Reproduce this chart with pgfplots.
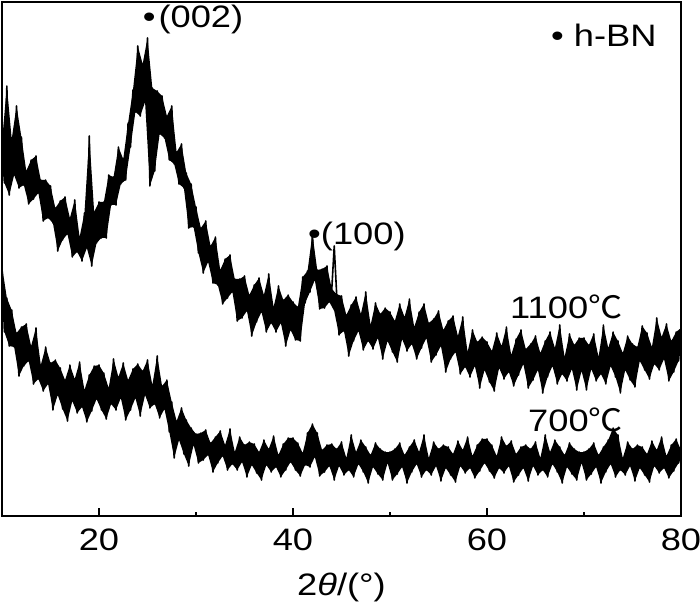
\documentclass[border=0pt]{standalone}
\usepackage{fontspec}
\setmainfont{Liberation Sans}[FakeStretch=1.17]
\newfontfamily\cjk{Noto Sans CJK SC}[FakeStretch=1.1]
\usepackage{pgfplots}
\pgfplotsset{compat=1.18}
\begin{document}
\begin{tikzpicture}[font=\fontsize{31}{37}\selectfont]
\path[use as bounding box] (-2pt,-88pt) rectangle (698pt,516pt);
\begin{axis}[
  at={(0pt,0pt)}, anchor=south west,
  scale only axis, width=679pt, height=514pt,
  xmin=10, xmax=80, ymin=0, ymax=514,
  xtick={20,40,60,80}, minor xtick={30,50,70},
  ytick=\empty,
  xtick pos=left, tick align=inside,
  major tick length=8pt, minor tick length=4pt,
  every tick/.style={black, line width=1.5pt},
  axis line style={line width=1.5pt},
  /pgf/number format/assume math mode=true,
  xticklabel style={font=\fontsize{31}{37}\selectfont, anchor=base, inner sep=0pt, yshift=-34pt},
  xlabel={2\textit{θ}/(°)},
  xlabel style={font=\fontsize{31}{37}\selectfont, at={(axis description cs:0.5,0)}, anchor=base, inner sep=0pt, yshift=-79pt},
]
% 1100 C: band between the noise maxima (forward) and minima (back)
\addplot[fill=black, draw=none] coordinates {
(10,374)(10.5,430)(11,377)(11.5,410)(12,379)(12.5,345)(13,356)(13.5,360)(14,336)(14.5,336)(15,330)(15.5,308)(16,315)(16.5,319)(17,298)(17.5,316)(18,279)(18.5,303)(19,380)(19.5,304)(20,314)(20.5,314)(21,341)(21.5,339)(22,369)(22.5,357)(23,393)(23.5,426)(24,470)(24.5,452)(25,478)(25.5,428)(26,425)(26.5,420)(27,400)(27.5,410)(28,364)(28.5,372)(29,343)(29.5,332)(30,309)(30.5,288)(31,295)(31.5,270)(32,279)(32.5,246)(33,257)(33.5,261)(34,237)(34.5,237)(35,240)(35.5,221)(36,231)(36.5,238)(37,221)(37.5,242)(38,209)(38.5,230)(39,216)(39.5,221)(40,214)(40.5,209)(41,239)(41.5,245)(42,282)(42.5,246)(43,247)(43.5,250)(44,227)(44.5,222)(45,220)(45.5,201)(46,211)(46.5,219)(47,202)(47.5,224)(48,191)(48.5,213)(49,202)(49.5,208)(50,204)(50.5,195)(51,212)(51.5,199)(52,217)(52.5,189)(53,204)(53.5,212)(54,193)(54.5,197)(55,205)(55.5,186)(56,195)(56.5,200)(57,180)(57.5,199)(58,164)(58.5,186)(59,174)(59.5,179)(60,174)(60.5,165)(61,183)(61.5,170)(62,189)(62.5,161)(63,177)(63.5,186)(64,167)(64.5,172)(65,180)(65.5,163)(66,175)(66.5,184)(67,168)(67.5,191)(68,159)(68.5,182)(69,171)(69.5,178)(70,178)(70.5,171)(71,182)(71.5,159)(72,191)(72.5,168)(73,184)(73.5,175)(74,163)(74.5,180)(75,172)(75.5,169)(76,190)(76.5,183)(77,169)(77.5,198)(78,179)(78.5,192)(79,175)(79.5,184)(80,188)
(79.75,155)(79.25,144)(78.75,135)(78.25,157)(77.75,146)(77.25,152)(76.75,137)(76.25,146)(75.75,155)(75.25,129)(74.75,136)(74.25,146)(73.75,123)(73.25,139)(72.75,150)(72.25,132)(71.75,142)(71.25,135)(70.75,147)(70.25,126)(69.75,145)(69.25,126)(68.75,147)(68.25,135)(67.75,142)(67.25,132)(66.75,150)(66.25,139)(65.75,123)(65.25,146)(64.75,136)(64.25,128)(63.75,152)(63.25,141)(62.75,130)(62.25,144)(61.75,137)(61.25,148)(60.75,125)(60.25,134)(59.75,146)(59.25,128)(58.75,150)(58.25,139)(57.75,149)(57.25,142)(56.75,164)(56.25,157)(55.75,144)(55.25,170)(54.75,161)(54.25,154)(53.75,178)(53.25,168)(52.75,157)(52.25,172)(51.75,165)(51.25,177)(50.75,154)(50.25,164)(49.75,175)(49.25,157)(48.75,178)(48.25,167)(47.75,175)(47.25,166)(46.75,185)(46.25,175)(45.75,160)(45.25,185)(44.75,181)(44.25,205)(43.75,214)(43.25,208)(42.75,207)(42.25,236)(41.75,224)(41.25,213)(40.75,175)(40.25,176)(39.75,186)(39.25,170)(38.75,193)(38.25,184)(37.75,193)(37.25,184)(36.75,204)(36.25,194)(35.75,180)(35.25,205)(34.75,198)(34.25,195)(33.75,224)(33.25,218)(32.75,212)(32.25,231)(31.75,233)(31.25,254)(30.75,243)(30.25,263)(29.75,289)(29.25,288)(28.75,328)(28.25,332)(27.75,352)(27.25,356)(26.75,378)(26.25,382)(25.75,345)(25.25,330)(24.75,414)(24.25,400)(23.75,404)(23.25,369)(22.75,336)(22.25,332)(21.75,311)(21.25,311)(20.75,278)(20.25,278)(19.75,273)(19.25,250)(18.75,268)(18.25,255)(17.75,264)(17.25,259)(16.75,282)(16.25,276)(15.75,265)(15.25,293)(14.75,298)(14.25,295)(13.75,323)(13.25,317)(12.75,312)(12.25,331)(11.75,328)(11.25,341)(10.75,321)(10.25,333)
};
% 700 C: band between the noise maxima (forward) and minima (back)
\addplot[fill=black, draw=none] coordinates {
(10,250)(10.5,218)(11,206)(11.5,183)(12,189)(12.5,192)(13,170)(13.5,188)(14,151)(14.5,169)(15,153)(15.5,156)(16,148)(16.5,136)(17,151)(17.5,137)(18,154)(18.5,126)(19,141)(19.5,150)(20,151)(20.5,143)(21,128)(21.5,157)(22,139)(22.5,153)(23,136)(23.5,147)(24,152)(24.5,145)(25,156)(25.5,131)(26,160)(26.5,130)(27,136)(27.5,114)(28,95)(28.5,108)(29,96)(29.5,88)(30,82)(30.5,83)(31,86)(31.5,73)(32,79)(32.5,85)(33,71)(33.5,87)(34,64)(34.5,79)(35,71)(35.5,74)(36,72)(36.5,64)(37,76)(37.5,67)(38,80)(38.5,61)(39,72)(39.5,78)(40,78)(40.5,73)(41,63)(41.5,83)(42,92)(42.5,83)(43,66)(43.5,71)(44,72)(44.5,67)(45,74)(45.5,58)(46,81)(46.5,64)(47,76)(47.5,69)(48,61)(48.5,73)(49,67)(49.5,64)(50,64)(50.5,67)(51,73)(51.5,61)(52,69)(52.5,76)(53,64)(53.5,81)(54,58)(54.5,74)(55,67)(55.5,71)(56,69)(56.5,62)(57,75)(57.5,66)(58,79)(58.5,60)(59,71)(59.5,77)(60,77)(60.5,71)(61,60)(61.5,79)(62,70)(62.5,75)(63,62)(63.5,69)(64,71)(64.5,67)(65,74)(65.5,58)(66,81)(66.5,64)(67,76)(67.5,69)(68,61)(68.5,73)(69,67)(69.5,64)(70,64)(70.5,67)(71,73)(71.5,61)(72,69)(72.5,76)(73,88)(73.5,81)(74,58)(74.5,74)(75,67)(75.5,71)(76,69)(76.5,62)(77,75)(77.5,66)(78,79)(78.5,60)(79,71)(79.5,77)(80,66)
(79.75,53)(79.25,45)(78.75,38)(78.25,48)(77.75,43)(77.25,50)(76.75,34)(76.25,41)(75.75,48)(75.25,35)(74.75,50)(74.25,41)(73.75,46)(73.25,39)(72.75,52)(72.25,44)(71.75,33)(71.25,49)(70.75,42)(70.25,36)(69.75,53)(69.25,36)(68.75,42)(68.25,49)(67.75,33)(67.25,44)(66.75,52)(66.25,39)(65.75,46)(65.25,41)(64.75,50)(64.25,35)(63.75,48)(63.25,41)(62.75,34)(62.25,50)(61.75,43)(61.25,48)(60.75,38)(60.25,45)(59.75,53)(59.25,45)(58.75,38)(58.25,48)(57.75,43)(57.25,50)(56.75,34)(56.25,41)(55.75,48)(55.25,35)(54.75,50)(54.25,41)(53.75,46)(53.25,39)(52.75,52)(52.25,44)(51.75,33)(51.25,49)(50.75,42)(50.25,36)(49.75,53)(49.25,36)(48.75,42)(48.25,49)(47.75,33)(47.25,44)(46.75,52)(46.25,39)(45.75,46)(45.25,41)(44.75,50)(44.25,36)(43.75,50)(43.25,44)(42.75,40)(42.25,59)(41.75,49)(41.25,51)(40.75,40)(40.25,46)(39.75,54)(39.25,46)(38.75,39)(38.25,49)(37.75,44)(37.25,51)(36.75,36)(36.25,43)(35.75,51)(35.25,39)(34.75,54)(34.25,46)(33.75,52)(33.25,46)(32.75,60)(32.25,53)(31.75,44)(31.25,61)(30.75,56)(30.25,53)(29.75,71)(29.25,50)(28.75,62)(28.25,76)(27.75,58)(27.25,84)(26.75,107)(26.25,98)(25.75,112)(25.25,108)(24.75,121)(24.25,100)(23.75,118)(23.25,106)(22.75,96)(22.25,118)(21.75,106)(21.25,112)(20.75,97)(20.25,106)(19.75,117)(19.25,105)(18.75,94)(18.25,109)(17.75,103)(17.25,115)(16.75,95)(16.25,107)(15.75,121)(15.25,106)(14.75,132)(14.25,125)(13.75,137)(13.25,132)(12.75,155)(12.25,150)(11.75,140)(11.25,169)(10.75,170)(10.25,184)
};
\addplot[black, line width=1.6pt, line join=round, mark=none] coordinates {
(10,374)(10.25,333)(10.5,430)(10.75,321)(11,377)(11.25,341)(11.5,410)(11.75,328)(12,379)(12.25,331)(12.5,345)(12.75,312)(13,356)(13.25,317)(13.5,360)(13.75,323)(14,336)(14.25,295)(14.5,336)(14.75,298)(15,330)(15.25,293)(15.5,308)(15.75,265)(16,315)(16.25,276)(16.5,319)(16.75,282)(17,298)(17.25,259)(17.5,316)(17.75,264)(18,279)(18.25,255)(18.5,303)(18.75,268)(19,380)(19.25,250)(19.5,304)(19.75,273)(20,314)(20.25,278)(20.5,314)(20.75,278)(21,341)(21.25,311)(21.5,339)(21.75,311)(22,369)(22.25,332)(22.5,357)(22.75,336)(23,393)(23.25,369)(23.5,426)(23.75,404)(24,470)(24.25,400)(24.5,452)(24.75,414)(25,478)(25.25,330)(25.5,428)(25.75,345)(26,425)(26.25,382)(26.5,420)(26.75,378)(27,400)(27.25,356)(27.5,410)(27.75,352)(28,364)(28.25,332)(28.5,372)(28.75,328)(29,343)(29.25,288)(29.5,332)(29.75,289)(30,309)(30.25,263)(30.5,288)(30.75,243)(31,295)(31.25,254)(31.5,270)(31.75,233)(32,279)(32.25,231)(32.5,246)(32.75,212)(33,257)(33.25,218)(33.5,261)(33.75,224)(34,237)(34.25,195)(34.5,237)(34.75,198)(35,240)(35.25,205)(35.5,221)(35.75,180)(36,231)(36.25,194)(36.5,238)(36.75,204)(37,221)(37.25,184)(37.5,242)(37.75,193)(38,209)(38.25,184)(38.5,230)(38.75,193)(39,216)(39.25,170)(39.5,221)(39.75,186)(40,214)(40.25,176)(40.5,209)(40.75,175)(41,239)(41.25,213)(41.5,245)(41.75,224)(42,282)(42.25,236)(42.5,246)(42.75,207)(43,247)(43.25,208)(43.5,250)(43.75,214)(44,227)(44.25,270)(44.5,222)(44.75,181)(45,220)(45.25,185)(45.5,201)(45.75,160)(46,211)(46.25,175)(46.5,219)(46.75,185)(47,202)(47.25,166)(47.5,224)(47.75,175)(48,191)(48.25,167)(48.5,213)(48.75,178)(49,202)(49.25,157)(49.5,208)(49.75,175)(50,204)(50.25,164)(50.5,195)(50.75,154)(51,212)(51.25,177)(51.5,199)(51.75,165)(52,217)(52.25,172)(52.5,189)(52.75,157)(53,204)(53.25,168)(53.5,212)(53.75,178)(54,193)(54.25,154)(54.5,197)(54.75,161)(55,205)(55.25,170)(55.5,186)(55.75,144)(56,195)(56.25,157)(56.5,200)(56.75,164)(57,180)(57.25,142)(57.5,199)(57.75,149)(58,164)(58.25,139)(58.5,186)(58.75,150)(59,174)(59.25,128)(59.5,179)(59.75,146)(60,174)(60.25,134)(60.5,165)(60.75,125)(61,183)(61.25,148)(61.5,170)(61.75,137)(62,189)(62.25,144)(62.5,161)(62.75,130)(63,177)(63.25,141)(63.5,186)(63.75,152)(64,167)(64.25,128)(64.5,172)(64.75,136)(65,180)(65.25,146)(65.5,163)(65.75,123)(66,175)(66.25,139)(66.5,184)(66.75,150)(67,168)(67.25,132)(67.5,191)(67.75,142)(68,159)(68.25,135)(68.5,182)(68.75,147)(69,171)(69.25,126)(69.5,178)(69.75,145)(70,178)(70.25,126)(70.5,171)(70.75,147)(71,182)(71.25,135)(71.5,159)(71.75,142)(72,191)(72.25,132)(72.5,168)(72.75,150)(73,184)(73.25,139)(73.5,175)(73.75,123)(74,163)(74.25,146)(74.5,180)(74.75,136)(75,172)(75.25,129)(75.5,169)(75.75,155)(76,190)(76.25,146)(76.5,183)(76.75,137)(77,169)(77.25,152)(77.5,198)(77.75,146)(78,179)(78.25,157)(78.5,192)(78.75,135)(79,175)(79.25,144)(79.5,184)(79.75,155)(80,188)
};
\addplot[black, line width=1.6pt, line join=round, mark=none] coordinates {
(10,250)(10.25,184)(10.5,218)(10.75,170)(11,206)(11.25,169)(11.5,183)(11.75,140)(12,189)(12.25,150)(12.5,192)(12.75,155)(13,170)(13.25,132)(13.5,188)(13.75,137)(14,151)(14.25,125)(14.5,169)(14.75,132)(15,153)(15.25,106)(15.5,156)(15.75,121)(16,148)(16.25,107)(16.5,136)(16.75,95)(17,151)(17.25,115)(17.5,137)(17.75,103)(18,154)(18.25,109)(18.5,126)(18.75,94)(19,141)(19.25,105)(19.5,150)(19.75,117)(20,151)(20.25,106)(20.5,143)(20.75,97)(21,128)(21.25,112)(21.5,157)(21.75,106)(22,139)(22.25,118)(22.5,153)(22.75,96)(23,136)(23.25,106)(23.5,147)(23.75,118)(24,152)(24.25,100)(24.5,145)(24.75,121)(25,156)(25.25,108)(25.5,131)(25.75,112)(26,160)(26.25,98)(26.5,130)(26.75,107)(27,136)(27.25,84)(27.5,114)(27.75,58)(28,95)(28.25,76)(28.5,108)(28.75,62)(29,96)(29.25,50)(29.5,88)(29.75,71)(30,82)(30.25,53)(30.5,83)(30.75,56)(31,86)(31.25,61)(31.5,73)(31.75,44)(32,79)(32.25,53)(32.5,85)(32.75,60)(33,71)(33.25,46)(33.5,87)(33.75,52)(34,64)(34.25,46)(34.5,79)(34.75,54)(35,71)(35.25,39)(35.5,74)(35.75,51)(36,72)(36.25,43)(36.5,64)(36.75,36)(37,76)(37.25,51)(37.5,67)(37.75,44)(38,80)(38.25,49)(38.5,61)(38.75,39)(39,72)(39.25,46)(39.5,78)(39.75,54)(40,78)(40.25,46)(40.5,73)(40.75,40)(41,63)(41.25,51)(41.5,83)(41.75,49)(42,92)(42.25,59)(42.5,83)(42.75,40)(43,66)(43.25,44)(43.5,71)(43.75,50)(44,72)(44.25,36)(44.5,67)(44.75,50)(45,74)(45.25,41)(45.5,58)(45.75,46)(46,81)(46.25,39)(46.5,64)(46.75,52)(47,76)(47.25,44)(47.5,69)(47.75,33)(48,61)(48.25,49)(48.5,73)(48.75,42)(49,67)(49.25,36)(49.5,64)(49.75,53)(50,64)(50.25,36)(50.5,67)(50.75,42)(51,73)(51.25,49)(51.5,61)(51.75,33)(52,69)(52.25,44)(52.5,76)(52.75,52)(53,64)(53.25,39)(53.5,81)(53.75,46)(54,58)(54.25,41)(54.5,74)(54.75,50)(55,67)(55.25,35)(55.5,71)(55.75,48)(56,69)(56.25,41)(56.5,62)(56.75,34)(57,75)(57.25,50)(57.5,66)(57.75,43)(58,79)(58.25,48)(58.5,60)(58.75,38)(59,71)(59.25,45)(59.5,77)(59.75,53)(60,77)(60.25,45)(60.5,71)(60.75,38)(61,60)(61.25,48)(61.5,79)(61.75,43)(62,70)(62.25,50)(62.5,75)(62.75,34)(63,62)(63.25,41)(63.5,69)(63.75,48)(64,71)(64.25,35)(64.5,67)(64.75,50)(65,74)(65.25,41)(65.5,58)(65.75,46)(66,81)(66.25,39)(66.5,64)(66.75,52)(67,76)(67.25,44)(67.5,69)(67.75,33)(68,61)(68.25,49)(68.5,73)(68.75,42)(69,67)(69.25,36)(69.5,64)(69.75,53)(70,64)(70.25,36)(70.5,67)(70.75,42)(71,73)(71.25,49)(71.5,61)(71.75,33)(72,69)(72.25,44)(72.5,76)(72.75,52)(73,88)(73.25,39)(73.5,81)(73.75,46)(74,58)(74.25,41)(74.5,74)(74.75,50)(75,67)(75.25,35)(75.5,71)(75.75,48)(76,69)(76.25,41)(76.5,62)(76.75,34)(77,75)(77.25,50)(77.5,66)(77.75,43)(78,79)(78.25,48)(78.5,60)(78.75,38)(79,71)(79.25,45)(79.5,77)(79.75,53)(80,66)
};
\node[anchor=base west, inner sep=0pt] at (axis cs:24.5,488) {•\kern3pt(002)};
\node[anchor=base west, inner sep=0pt] at (axis cs:41.55,271) {•(100)};
\node[anchor=base west, inner sep=0pt] at (axis cs:66.6,469) {• h-BN};
\node[anchor=base west, inner sep=0pt] at (axis cs:62.37,197) {1100{\cjk ℃}};
\node[anchor=base west, inner sep=0pt] at (axis cs:64.23,84) {700{\cjk ℃}};
\end{axis}
\end{tikzpicture}
\end{document}
